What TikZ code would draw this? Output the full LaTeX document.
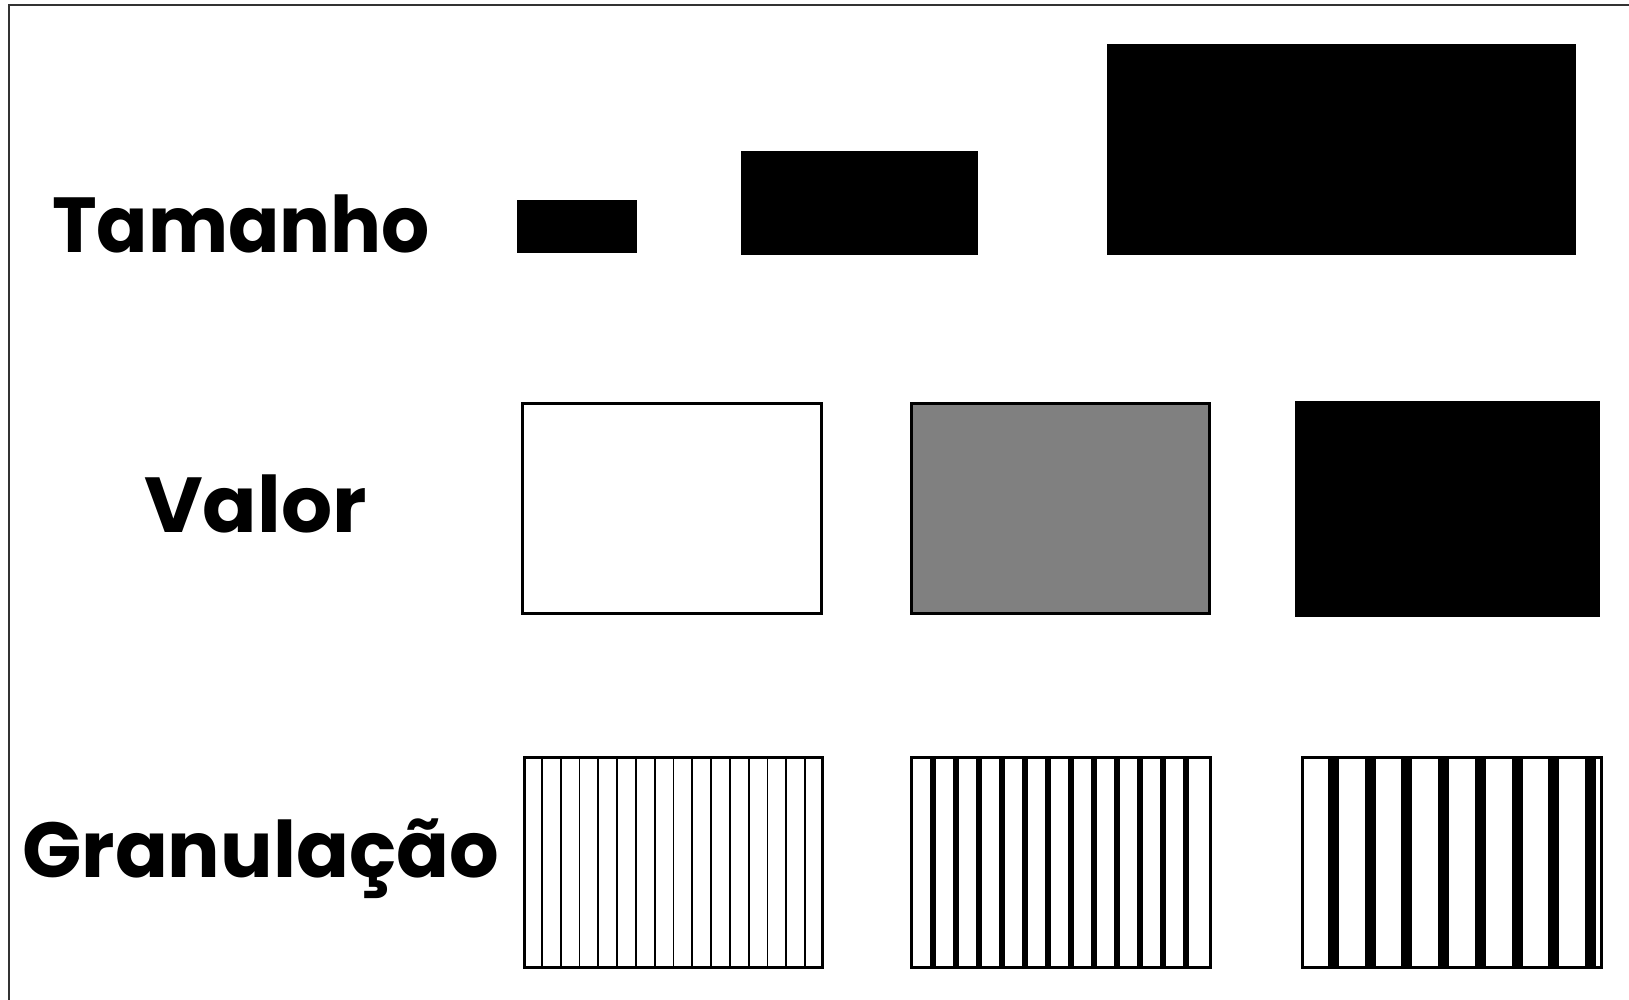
\documentclass[tikz,border=0pt]{standalone}
\usepackage{fontspec}
\setmainfont{Poppins}
\usetikzlibrary{positioning}

\begin{document}
\begin{tikzpicture}[x=1pt, y=-1pt,
    rowlabel/.style={anchor=base west, inner sep=0pt, font=\fontsize{78}{78}\selectfont\bfseries},
    solidbox/.style={fill=black},
    framedbox/.style={draw=black, line width=3.4pt},
    thinline/.style={draw=black, line width=1.8pt},
    bar/.style={fill=black}]

    \useasboundingbox (0,0) rectangle (1629,1000);
    \draw[line width=1.3pt, black!80] (9,1000) -- (9,5) -- (1629,5);

    % row labels
    \node[rowlabel, xscale=0.97] (tamanho) at (52,253) {Tamanho};
    \node[rowlabel, xscale=1.03] (valor) at (144,532) {Valor};
    \node[rowlabel] (granul) at (22,877) {Granulação};

    % Tamanho
    \fill[solidbox] (517,200) rectangle (637,253);
    \fill[solidbox] (741,151) rectangle (978,255);
    \fill[solidbox] (1107,44) rectangle (1576,255);

    % Valor
    \draw[framedbox, fill=white] (522.7,403.7) rectangle (821.3,613.3);
    \draw[framedbox, fill=black!50] (911.7,403.7) rectangle (1209.3,613.3);
    \fill[solidbox] (1295,401) rectangle (1600,617);

    % Granulacao
    \foreach \i in {1,...,15}
        \draw[thinline] ({523+\i*18.8},756) -- ({523+\i*18.8},969);
    \draw[framedbox] (524.7,757.7) rectangle (822.3,967.3);

    \foreach \i in {0,...,11}
        \fill[bar] ({929.5+\i*23},756) rectangle +(6.5,213);
    \draw[framedbox] (911.7,757.7) rectangle (1210.3,967.3);

    \foreach \i in {0,...,7}
        \fill[bar] ({1328+\i*36.7},756) rectangle +(11,213);
    \draw[framedbox] (1302.7,757.7) rectangle (1601.3,967.3);
\end{tikzpicture}
\end{document}
